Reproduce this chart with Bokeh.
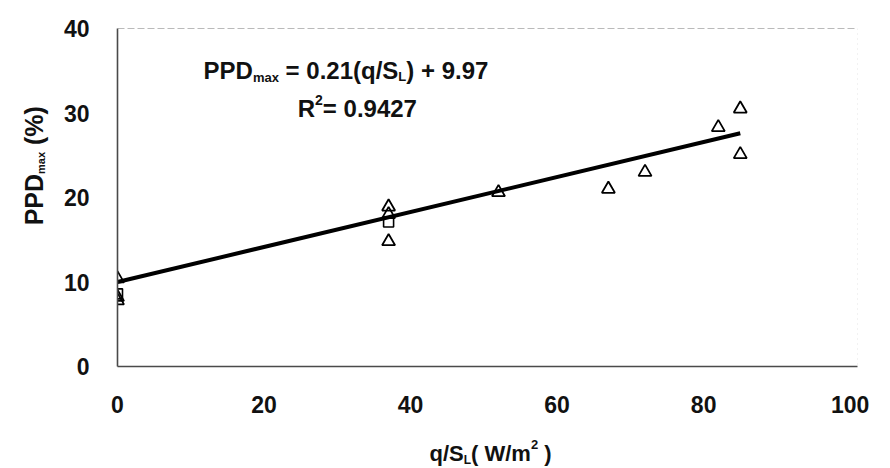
import math
from bokeh.plotting import figure
from bokeh.models import Range1d, Label, Span
from bokeh.layouts import column, row
from bokeh.embed import file_html
from bokeh.resources import INLINE

# ---- data ----
tri_x = [0, 0, 0, 37, 37, 37, 52, 67, 72, 82, 85, 85]
tri_y = [10.4, 8.2, 7.8, 18.9, 18.0, 14.8, 20.6, 21.0, 23.0, 28.3, 30.5, 25.1]
sq_x = [0, 37]
sq_y = [8.6, 17.1]
fit_x = [0, 85]
fit_y = [10.0, 27.6]
x_ticks = [0, 20, 40, 60, 80, 100]
y_ticks = [0, 10, 20, 30, 40]

FONT = "Liberation Sans"
LEFT_W = 50
MAIN_H = 420
BOT_H = 48

p = figure(width=890 - LEFT_W, height=MAIN_H, output_backend="svg",
           toolbar_location=None,
           x_range=Range1d(0, 101), y_range=Range1d(0, 40),
           min_border_left=117 - LEFT_W, min_border_right=33, min_border_top=28,
           min_border_bottom=MAIN_H - 366)
p.outline_line_color = None
p.grid.visible = False

for ax in (p.xaxis[0], p.yaxis[0]):
    ax.axis_line_color = "#4a4a4a"
    ax.axis_line_width = 1.6
    ax.major_tick_line_color = None
    ax.minor_tick_line_color = None
    ax.major_label_text_font = FONT
    ax.major_label_text_font_style = "bold"
    ax.major_label_text_font_size = "23px"
    ax.major_label_text_color = "#111111"
p.xaxis.ticker = x_ticks
p.yaxis.ticker = y_ticks
p.xaxis.major_label_standoff = 23
p.yaxis.major_label_standoff = 22

# frame top (dashed) and faint right edge
p.add_layout(Span(location=40, dimension="width", line_color="#777777",
                  line_width=1.2, line_dash="7 3"))
p.add_layout(Span(location=101, dimension="height", line_color="#cccccc",
                  line_width=1, line_dash="1 4"))

# trend line and markers
p.line(fit_x, fit_y, line_color="black", line_width=4)
p.scatter(tri_x, tri_y, marker="triangle", size=13, fill_color=None,
          line_color="black", line_width=1.8)
p.scatter(sq_x, sq_y, marker="square", size=10, fill_color=None,
          line_color="black", line_width=1.6)

CW = {'P': .667, 'D': .722, 'm': .889, 'a': .556, 'x': .556, ' ': .278,
      '=': .584, '.': .278, '(': .333, ')': .333, 'q': .611, '/': .278,
      'S': .667, 'L': .611, '+': .584, 'R': .722, 'W': .944, '%': .889}


def tw(s, size):
    return sum(CW.get(c, .556) for c in s) * size


def total_w(pieces):
    return sum(tw(t, s) for t, s, _ in pieces)


def rich(fig, pieces, x, y, angle=0.0):
    adv = 0.0
    for text, size, shift in pieces:
        lead = len(text) - len(text.lstrip(" "))
        adv += lead * CW[' '] * size
        core = text.strip(" ")
        if core:
            if angle == 0:
                xo, yo = adv, shift
            else:
                xo, yo = -shift, adv
            fig.add_layout(Label(x=x, y=y, x_offset=xo, y_offset=yo, text=core,
                                 angle=angle, text_font=FONT,
                                 text_font_style="bold",
                                 text_font_size=f"{size}px",
                                 text_color="#111111", text_align="left",
                                 text_baseline="alphabetic"))
            adv += tw(core, size)
        trail = len(text.lstrip(" ")) - len(core)
        adv += trail * CW[' '] * size


# equation
rich(p, [("PPD", 24, 0), ("max", 13, -7), (" = 0.21(q/S", 24, 0), ("L", 13, -6),
         (") + 9.97", 24, 0)], 11.75, 35.0)
rich(p, [("R", 24, 0), ("2", 14, 9), ("= 0.9427", 24, 0)], 24.6, 30.5)


def blank(w, h):
    f = figure(width=w, height=h, output_backend="svg", toolbar_location=None,
               x_range=Range1d(0, w), y_range=Range1d(0, h),
               x_axis_type=None, y_axis_type=None,
               min_border_left=0, min_border_right=0, min_border_top=0,
               min_border_bottom=0)
    f.outline_line_color = None
    f.grid.visible = False
    return f


# y-axis title (rotated)
left = blank(LEFT_W, MAIN_H)
ytitle = [("PPD", 25, 0), ("max", 11, -7), (" (%)", 25, 0)]
rich(left, ytitle, 33, MAIN_H - 185 - total_w(ytitle) / 2, angle=math.pi / 2)

# x-axis title
bottom = blank(890, BOT_H)
xtitle = [("q/S", 22, 0), ("L", 12, -6), ("( W/m", 22, 0), ("2", 13, 9),
          (" )", 22, 0)]
rich(bottom, xtitle, 490 - total_w(xtitle) / 2, 15)

layout = column(row(left, p), bottom)
open("out.html", "w").write(file_html(layout, INLINE))
